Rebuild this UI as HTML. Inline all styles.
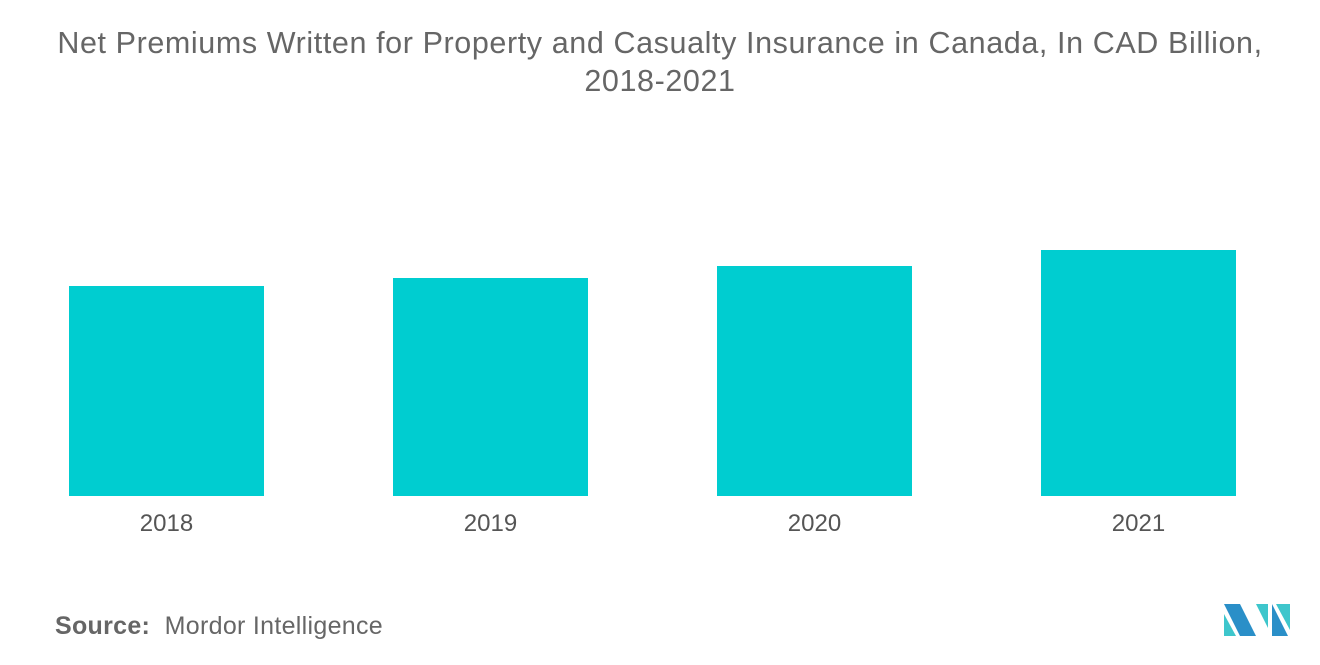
<!DOCTYPE html>
<html><head><meta charset="utf-8"><style>
body{margin:0;width:1320px;height:665px;background:#fff;overflow:hidden;font-family:"Liberation Sans",sans-serif;}
#title{position:absolute;left:0;width:1320px;top:24px;text-align:center;font-size:30.5px;letter-spacing:0.6px;line-height:38px;color:#666;}
#src{position:absolute;left:55px;top:612px;font-size:25px;color:#666;letter-spacing:0.3px;}
svg{position:absolute;left:0;top:0;}
</style></head><body>
<div id="title">Net Premiums Written for Property and Casualty Insurance in Canada, In CAD Billion,<br>2018-2021</div>
<div id="src"><span style="font-weight:600">Source:</span>&nbsp;&nbsp;Mordor Intelligence</div>
<svg id="chart" width="1320" height="665">
<g>
<polygon points="1224,604 1240,604 1256,636 1240,636" fill="#2a8fc8"/>
<polygon points="1224,614 1224,636 1236,636" fill="#3ec6cc"/>
<polygon points="1256,604 1268,604 1268,628" fill="#3ec6cc"/>
<polygon points="1272,604 1272,636 1288,636" fill="#2a8fc8"/>
<polygon points="1276,604 1290,604 1290,630" fill="#3ec6cc"/>
</g>
</svg>
<script>
const categories=["2018","2019","2020","2021"];
const values=[42.0,43.6,46.0,49.2];
const svg=document.getElementById('chart');
const NS='http://www.w3.org/2000/svg';
const baseY=496, pxPerUnit=5, x0=69, step=324, bw=195;
function xPos(i){return x0+i*step;}
function yPos(v){return baseY-v*pxPerUnit;}
categories.forEach((c,i)=>{
  const r=document.createElementNS(NS,'rect');
  r.setAttribute('x',xPos(i));r.setAttribute('y',yPos(values[i]));
  r.setAttribute('width',bw);r.setAttribute('height',baseY-yPos(values[i]));
  r.setAttribute('fill','#00cdd0');
  
  
  svg.appendChild(r);
  const t=document.createElementNS(NS,'text');
  t.setAttribute('x',xPos(i)+bw/2);t.setAttribute('y',531);
  t.setAttribute('text-anchor','middle');t.setAttribute('font-size','24');
  t.setAttribute('fill','#555');t.setAttribute('font-family','Liberation Sans, sans-serif');
  t.textContent=c;
  
  
  svg.appendChild(t);
});
</script>
</body></html>
